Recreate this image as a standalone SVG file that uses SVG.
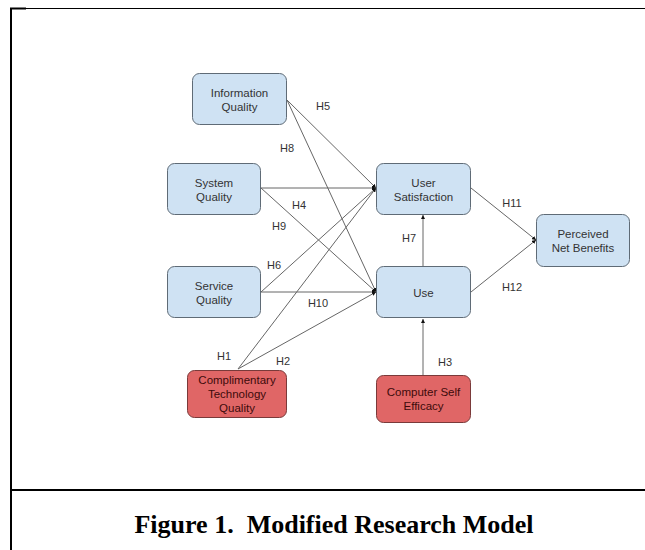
<svg xmlns="http://www.w3.org/2000/svg" width="645" height="550" viewBox="0 0 645 550">
<style>
.blue{fill:#cfe2f3;stroke:#5f6b76;stroke-width:1}
.red{fill:#e06666;stroke:#7a3a3a;stroke-width:1}
.t{font-family:"Liberation Sans",Arial,sans-serif;font-size:11.5px;fill:#333;text-anchor:middle}
.tr{font-family:"Liberation Sans",Arial,sans-serif;font-size:11.5px;fill:#3d0b0b;text-anchor:middle}
.lbl{font-family:"Liberation Sans",Arial,sans-serif;font-size:11px;fill:#333;text-anchor:middle}
.c line{stroke:#666;stroke-width:1;marker-end:url(#ah)}
</style>
<defs>
<marker id="ah" viewBox="0 0 6 6" refX="6" refY="3" markerWidth="4" markerHeight="4" orient="auto" markerUnits="userSpaceOnUse">
<path d="M0,0 L6,3 L0,6 z" fill="#111"/>
</marker>
</defs>
<rect width="645" height="550" fill="#fff"/>
<g id="frame" fill="none" stroke="#000">
<line x1="10" y1="8.5" x2="645" y2="8.5" stroke-width="1"/>
<line x1="10" y1="8.5" x2="26" y2="8.5" stroke-width="2"/>
<line x1="11" y1="8" x2="11" y2="550" stroke-width="2"/>
<line x1="10" y1="490" x2="645" y2="490" stroke-width="2"/>
</g>
<g class="c" id="connectors">
<line x1="287" y1="100" x2="376" y2="188"/>
<line x1="287" y1="100" x2="376" y2="292"/>
<line x1="261" y1="188" x2="376" y2="188"/>
<line x1="261" y1="188" x2="376" y2="292"/>
<line x1="261" y1="292" x2="376" y2="188"/>
<line x1="261" y1="292" x2="376" y2="292"/>
<line x1="238" y1="369" x2="376" y2="188"/>
<line x1="238" y1="369" x2="376" y2="292"/>
<line x1="423" y1="267" x2="423" y2="215"/>
<line x1="423" y1="375" x2="423" y2="319"/>
<line x1="471" y1="188" x2="536" y2="240"/>
<line x1="471" y1="292" x2="536" y2="240"/>
</g>
<g id="labels">
<text class="lbl" x="323" y="110">H5</text>
<text class="lbl" x="287" y="152">H8</text>
<text class="lbl" x="299" y="209">H4</text>
<text class="lbl" x="279" y="230">H9</text>
<text class="lbl" x="274" y="269">H6</text>
<text class="lbl" x="318" y="307">H10</text>
<text class="lbl" x="224" y="360">H1</text>
<text class="lbl" x="283" y="365">H2</text>
<text class="lbl" x="409" y="242">H7</text>
<text class="lbl" x="512" y="207">H11</text>
<text class="lbl" x="512" y="291">H12</text>
<text class="lbl" x="445" y="366">H3</text>
</g>
<g id="info-quality">
<rect class="blue" x="192.5" y="73.5" width="94" height="51" rx="7"/>
<text class="t" x="239.5" y="97">Information</text>
<text class="t" x="239.5" y="111">Quality</text>
</g>
<g id="system-quality">
<rect class="blue" x="167.5" y="163.5" width="93" height="51" rx="7"/>
<text class="t" x="214" y="187">System</text>
<text class="t" x="214" y="201">Quality</text>
</g>
<g id="service-quality">
<rect class="blue" x="167.5" y="266.5" width="93" height="51" rx="7"/>
<text class="t" x="214" y="290">Service</text>
<text class="t" x="214" y="304">Quality</text>
</g>
<g id="complimentary">
<rect class="red" x="187.5" y="370.5" width="99" height="47" rx="7"/>
<text class="tr" x="237" y="384">Complimentary</text>
<text class="tr" x="237" y="398">Technology</text>
<text class="tr" x="237" y="412">Quality</text>
</g>
<g id="user-satisfaction">
<rect class="blue" x="376.5" y="163.5" width="94" height="51" rx="7"/>
<text class="t" x="423.5" y="187">User</text>
<text class="t" x="423.5" y="201">Satisfaction</text>
</g>
<g id="use">
<rect class="blue" x="376.5" y="266.5" width="94" height="51" rx="7"/>
<text class="t" x="423.5" y="297">Use</text>
</g>
<g id="computer-self-efficacy">
<rect class="red" x="376.5" y="375.5" width="94" height="47" rx="7"/>
<text class="tr" x="423.5" y="396">Computer Self</text>
<text class="tr" x="423.5" y="410">Efficacy</text>
</g>
<g id="perceived-net-benefits">
<rect class="blue" x="536.5" y="214.5" width="93" height="52" rx="7"/>
<text class="t" x="583" y="238">Perceived</text>
<text class="t" x="583" y="252">Net Benefits</text>
</g>
<text x="334" y="533" text-anchor="middle" font-family="'Liberation Serif','Times New Roman',serif" font-weight="bold" font-size="26" fill="#000" style="white-space:pre">Figure 1.  Modified Research Model</text>
</svg>
